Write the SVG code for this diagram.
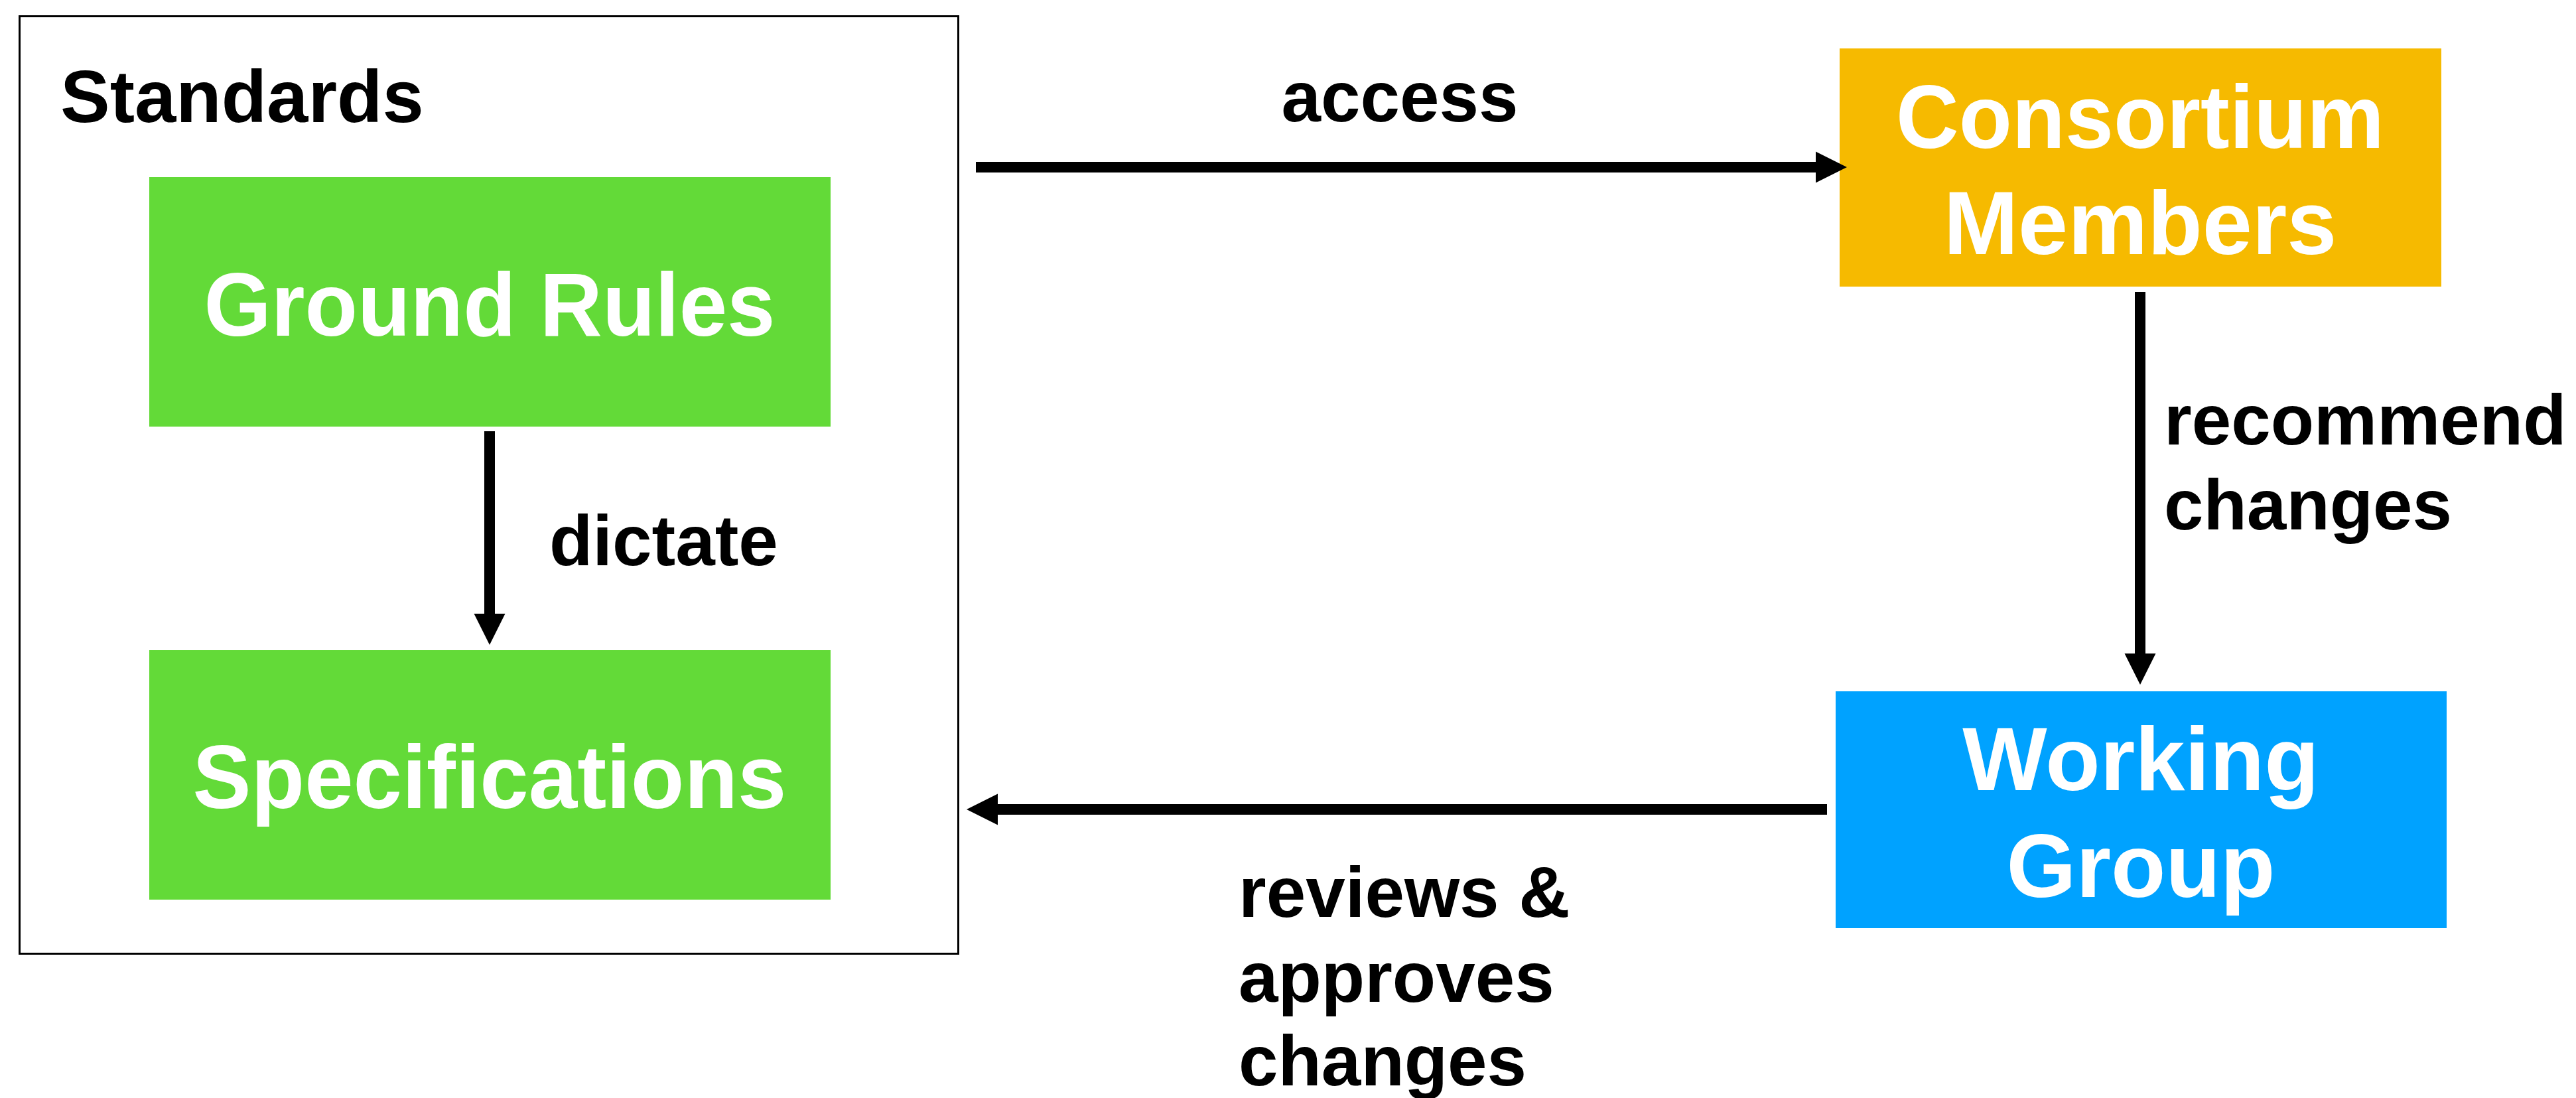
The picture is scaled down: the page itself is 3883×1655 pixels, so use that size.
<svg xmlns="http://www.w3.org/2000/svg" width="3883" height="1655" viewBox="0 0 3883 1655">
<style>
.lbl{font-family:"Liberation Sans",Arial,sans-serif;font-weight:bold;font-size:107px;fill:#000}
.nt{font-family:"Liberation Sans",Arial,sans-serif;font-weight:bold;font-size:135px;fill:#fff;text-anchor:middle}
.conn{stroke:#000;stroke-width:16;fill:none;marker-end:url(#ah)}
</style>
<defs>
<marker id="ah" markerUnits="userSpaceOnUse" markerWidth="48" markerHeight="48" refX="0" refY="23.5" orient="auto" overflow="visible">
<path d="M0,0 L47,23.5 L0,47 Z" fill="#000"/>
</marker>
</defs>
<rect width="3883" height="1655" fill="#fff"/>
<g id="standards">
<rect x="29.5" y="24.5" width="1415" height="1413" fill="none" stroke="#000" stroke-width="3"/>
<text class="lbl" x="91" y="184" style="font-size:112px">Standards</text>
</g>
<g id="ground-rules">
<rect x="225" y="267" width="1027" height="376" fill="#63DA38"/>
<text class="nt" x="738" y="506" textLength="861" lengthAdjust="spacingAndGlyphs">Ground Rules</text>
</g>
<g id="specifications">
<rect x="225" y="980" width="1027" height="376" fill="#63DA38"/>
<text class="nt" x="738" y="1218" textLength="895" lengthAdjust="spacingAndGlyphs">Specifications</text>
</g>
<g id="consortium-members">
<rect x="2773" y="73" width="907" height="359" fill="#F6BA00"/>
<text class="nt" x="3226" y="223" textLength="736" lengthAdjust="spacingAndGlyphs">Consortium</text>
<text class="nt" x="3226" y="383">Members</text>
</g>
<g id="working-group">
<rect x="2767" y="1042" width="921" height="357" fill="#00A2FF"/>
<text class="nt" x="3227" y="1191">Working</text>
<text class="nt" x="3227" y="1352">Group</text>
</g>
<g id="connectors">
<line class="conn" x1="1471" y1="252" x2="2737" y2="252"/>
<line class="conn" x1="738" y1="650" x2="738" y2="925"/>
<line class="conn" x1="3226" y1="440" x2="3226" y2="985"/>
<line class="conn" x1="2754" y1="1220" x2="1504" y2="1220"/>
<text class="lbl" x="2110" y="183" text-anchor="middle">access</text>
<text class="lbl" x="828" y="852">dictate</text>
<text class="lbl" x="3262" y="670">recommend</text>
<text class="lbl" x="3262" y="798">changes</text>
<text class="lbl" x="1867" y="1382">reviews &amp;</text>
<text class="lbl" x="1867" y="1510">approves</text>
<text class="lbl" x="1867" y="1636">changes</text>
</g>
</svg>
